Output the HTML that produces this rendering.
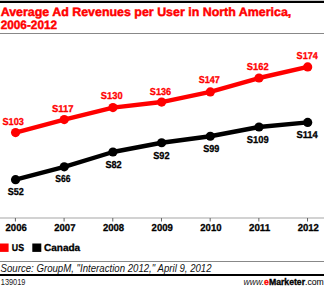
<!DOCTYPE html>
<html><head><meta charset="utf-8"><style>
html,body{margin:0;padding:0;background:#fff;}
body{width:324px;height:287px;overflow:hidden;position:relative;}
svg{position:absolute;left:0;top:0;}
text{font-family:"Liberation Sans",sans-serif;}
.lb{font-size:10.0px;font-weight:bold;stroke-width:0.3px;text-rendering:geometricPrecision;}
.ax{font-size:10px;font-weight:bold;fill:#000;stroke-width:0.3px;text-rendering:geometricPrecision;}
.tt{font-size:12.2px;font-weight:bold;fill:#ff0000;stroke:#ff0000;stroke-width:0.45px;text-rendering:geometricPrecision;}
.lg{font-size:10px;font-weight:bold;fill:#000;stroke:#000;stroke-width:0.3px;text-rendering:geometricPrecision;}
.src{font-size:10.2px;font-style:italic;fill:#111;}
.ft{font-size:8.8px;fill:#111;stroke:#111;stroke-width:0.12px;}
</style></head><body>
<svg width="324" height="287" viewBox="0 0 324 287">
<rect x="0" y="0" width="324" height="1" fill="#c8c8c8"/>
<rect x="0" y="1" width="324" height="2" fill="#000"/>
<text x="0.7" y="15.9" class="tt" textLength="290.6" lengthAdjust="spacingAndGlyphs">Average Ad Revenues per User in North America,</text>
<text x="0.7" y="28.6" class="tt" textLength="56.4" lengthAdjust="spacingAndGlyphs">2006-2012</text>
<rect x="0" y="33" width="324" height="1" fill="#888"/>
<polyline points="15.55,132.57 64.24,119.62 112.93,107.60 161.62,102.05 210.31,91.88 259.00,78.01 307.69,66.92" fill="none" stroke="#ff0000" stroke-width="4.4" stroke-linejoin="round"/>
<polyline points="15.55,179.72 64.24,166.78 112.93,151.98 161.62,142.74 210.31,136.26 259.00,127.02 307.69,122.40" fill="none" stroke="#000" stroke-width="4.4" stroke-linejoin="round"/>
<circle cx="15.55" cy="132.57" r="4.6" fill="#ff0000"/>
<circle cx="64.24" cy="119.62" r="4.6" fill="#ff0000"/>
<circle cx="112.93" cy="107.60" r="4.6" fill="#ff0000"/>
<circle cx="161.62" cy="102.05" r="4.6" fill="#ff0000"/>
<circle cx="210.31" cy="91.88" r="4.6" fill="#ff0000"/>
<circle cx="259.00" cy="78.01" r="4.6" fill="#ff0000"/>
<circle cx="307.69" cy="66.92" r="4.6" fill="#ff0000"/>
<circle cx="15.55" cy="179.72" r="4.6" fill="#000"/>
<circle cx="64.24" cy="166.78" r="4.6" fill="#000"/>
<circle cx="112.93" cy="151.98" r="4.6" fill="#000"/>
<circle cx="161.62" cy="142.74" r="4.6" fill="#000"/>
<circle cx="210.31" cy="136.26" r="4.6" fill="#000"/>
<circle cx="259.00" cy="127.02" r="4.6" fill="#000"/>
<circle cx="307.69" cy="122.40" r="4.6" fill="#000"/>
<text x="2.50" y="124.60" class="lb" fill="#ff0000" stroke="#ff0000" textLength="21.40" lengthAdjust="spacingAndGlyphs">S103</text>
<text x="52.00" y="112.40" class="lb" fill="#ff0000" stroke="#ff0000" textLength="21.60" lengthAdjust="spacingAndGlyphs">S117</text>
<text x="100.80" y="99.40" class="lb" fill="#ff0000" stroke="#ff0000" textLength="21.80" lengthAdjust="spacingAndGlyphs">S130</text>
<text x="149.80" y="94.80" class="lb" fill="#ff0000" stroke="#ff0000" textLength="21.40" lengthAdjust="spacingAndGlyphs">S136</text>
<text x="198.70" y="83.40" class="lb" fill="#ff0000" stroke="#ff0000" textLength="21.20" lengthAdjust="spacingAndGlyphs">S147</text>
<text x="246.80" y="69.70" class="lb" fill="#ff0000" stroke="#ff0000" textLength="21.80" lengthAdjust="spacingAndGlyphs">S162</text>
<text x="296.60" y="59.40" class="lb" fill="#ff0000" stroke="#ff0000" textLength="21.20" lengthAdjust="spacingAndGlyphs">S174</text>
<text x="7.80" y="194.80" class="lb" fill="#000" stroke="#000" textLength="16.10" lengthAdjust="spacingAndGlyphs">S52</text>
<text x="55.20" y="182.10" class="lb" fill="#000" stroke="#000" textLength="15.20" lengthAdjust="spacingAndGlyphs">S66</text>
<text x="105.40" y="167.90" class="lb" fill="#000" stroke="#000" textLength="16.30" lengthAdjust="spacingAndGlyphs">S82</text>
<text x="153.20" y="158.90" class="lb" fill="#000" stroke="#000" textLength="16.30" lengthAdjust="spacingAndGlyphs">S92</text>
<text x="203.30" y="151.90" class="lb" fill="#000" stroke="#000" textLength="16.10" lengthAdjust="spacingAndGlyphs">S99</text>
<text x="246.80" y="142.80" class="lb" fill="#000" stroke="#000" textLength="21.80" lengthAdjust="spacingAndGlyphs">S109</text>
<text x="296.40" y="137.80" class="lb" fill="#000" stroke="#000" textLength="21.40" lengthAdjust="spacingAndGlyphs">S114</text>
<rect x="0" y="217" width="324" height="2" fill="#d2d2d2"/>
<rect x="14.90" y="218" width="1" height="3.5" fill="#666"/>
<text x="5.55" y="230.6" class="ax" stroke="#000" textLength="21.2" lengthAdjust="spacingAndGlyphs">2006</text>
<rect x="63.59" y="218" width="1" height="3.5" fill="#666"/>
<text x="54.24" y="230.6" class="ax" stroke="#000" textLength="21.2" lengthAdjust="spacingAndGlyphs">2007</text>
<rect x="112.28" y="218" width="1" height="3.5" fill="#666"/>
<text x="102.93" y="230.6" class="ax" stroke="#000" textLength="21.2" lengthAdjust="spacingAndGlyphs">2008</text>
<rect x="160.97" y="218" width="1" height="3.5" fill="#666"/>
<text x="151.62" y="230.6" class="ax" stroke="#000" textLength="21.2" lengthAdjust="spacingAndGlyphs">2009</text>
<rect x="209.66" y="218" width="1" height="3.5" fill="#666"/>
<text x="200.31" y="230.6" class="ax" stroke="#000" textLength="21.2" lengthAdjust="spacingAndGlyphs">2010</text>
<rect x="258.35" y="218" width="1" height="3.5" fill="#666"/>
<text x="249.00" y="230.6" class="ax" stroke="#000" textLength="21.2" lengthAdjust="spacingAndGlyphs">2011</text>
<rect x="307.04" y="218" width="1" height="3.5" fill="#666"/>
<text x="297.69" y="230.6" class="ax" stroke="#000" textLength="21.2" lengthAdjust="spacingAndGlyphs">2012</text>
<rect x="0" y="243.5" width="8.6" height="8.4" fill="#ff0000"/>
<text x="11.8" y="251.4" class="lg" textLength="12.2" lengthAdjust="spacingAndGlyphs">US</text>
<rect x="32.3" y="243.5" width="9" height="8.4" fill="#000"/>
<text x="44" y="251.4" class="lg" textLength="36.2" lengthAdjust="spacingAndGlyphs">Canada</text>
<rect x="0" y="261" width="324" height="1" fill="#888"/>
<text x="0.6" y="271.6" class="src" textLength="211" lengthAdjust="spacingAndGlyphs">Source: GroupM, "Interaction 2012," April 9, 2012</text>
<rect x="0" y="274" width="324" height="2" fill="#000"/>
<text x="0.8" y="285" style="font-size:9.2px;fill:#1a1a1a" textLength="24.6" lengthAdjust="spacingAndGlyphs">139019</text>
<text x="243.4" y="285" class="ft" textLength="80.4" lengthAdjust="spacingAndGlyphs"><tspan font-style="italic" stroke-width="0" fill="#222">www.</tspan><tspan font-weight="bold" fill="#ff0000" stroke="#ff0000" stroke-width="0.35">e</tspan><tspan font-weight="bold" fill="#000" stroke="#000" stroke-width="0.35">Marketer</tspan>.com</text>
</svg>
</body></html>
